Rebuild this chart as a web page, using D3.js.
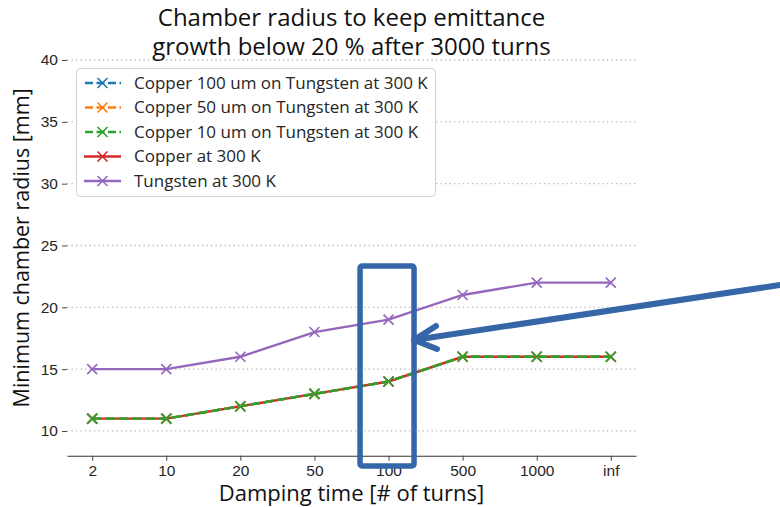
<!DOCTYPE html>
<html>
<head>
<meta charset="utf-8">
<script src="https://cdn.jsdelivr.net/npm/d3@7"></script>
<style>
  html, body { margin: 0; padding: 0; background: #fff; }
  svg { display: block; font-family: "Open Sans", Lato, sans-serif; }
</style>
</head>
<body>
<svg id="chart" width="780" height="507"></svg>
<script>
// Damping time categories (x axis)
const dampingTimes = ["2", "10", "20", "50", "100", "500", "1000", "inf"];

// Minimum chamber radius [mm] per configuration
const copper100OnTungsten = [11, 11, 12, 13, 14, 16, 16, 16];
const copper50OnTungsten  = [11, 11, 12, 13, 14, 16, 16, 16];
const copper10OnTungsten  = [11, 11, 12, 13, 14, 16, 16, 16];
const copperOnly          = [11, 11, 12, 13, 14, 16, 16, 16];
const tungstenOnly        = [15, 15, 16, 18, 19, 21, 22, 22];

const seriesNames = [
  "Copper 100 um on Tungsten at 300 K",
  "Copper 50 um on Tungsten at 300 K",
  "Copper 10 um on Tungsten at 300 K",
  "Copper at 300 K",
  "Tungsten at 300 K"
];

const yTicks = [10, 15, 20, 25, 30, 35, 40];

const series = [
  { name: seriesNames[0], values: copper100OnTungsten, color: "#1f77b4", dashed: true },
  { name: seriesNames[1], values: copper50OnTungsten,  color: "#ff7f0e", dashed: true },
  { name: seriesNames[2], values: copper10OnTungsten,  color: "#2ca02c", dashed: true },
  { name: seriesNames[3], values: copperOnly,          color: "#d62728", dashed: false },
  { name: seriesNames[4], values: tungstenOnly,        color: "#9467bd", dashed: false }
];
// solid copper line sits below the dashed coated-copper lines
const drawOrder = [3, 0, 1, 2, 4];

const svg = d3.select("#chart");
const plotLeft = 67, plotRight = 636, plotTop = 60, plotBottom = 455.7;

const x = d3.scalePoint().domain(dampingTimes).range([plotLeft, plotRight]).padding(0.34);
const y = d3.scaleLinear().domain([8, 40]).range([plotBottom, plotTop]);

const textColor = "#262626";
const dash = "9.5,3.8";

// horizontal dotted grid
svg.append("g").selectAll("line").data(yTicks).join("line")
  .attr("x1", plotLeft).attr("x2", plotRight)
  .attr("y1", d => y(d)).attr("y2", d => y(d))
  .attr("stroke", "#b8b8b8").attr("stroke-width", 1.3)
  .attr("stroke-dasharray", "1.3,3.2");

// y axis (no spine)
const yAxis = svg.append("g").attr("transform", `translate(${plotLeft},0)`)
  .call(d3.axisLeft(y).tickValues(yTicks).tickSize(5).tickPadding(4));
yAxis.select(".domain").remove();
yAxis.selectAll("line").attr("stroke", "#444").attr("stroke-width", 1);
yAxis.selectAll("text").attr("font-size", 15.5).attr("fill", textColor)
  .attr("font-family", "inherit");

// x axis
const xAxis = svg.append("g").attr("transform", `translate(0,${plotBottom})`)
  .call(d3.axisBottom(x).tickSize(5).tickSizeOuter(0).tickPadding(4));
xAxis.select(".domain").attr("stroke", "#333").attr("stroke-width", 1.1);
xAxis.selectAll("line").attr("stroke", "#444");
xAxis.selectAll("text").attr("font-size", 15.5).attr("fill", textColor)
  .attr("font-family", "inherit");

// series lines and x markers
const line = d3.line().x((d, i) => x(dampingTimes[i])).y(d => y(d));
const xMarker = (g, cx, cy, color) => {
  const r = 5;
  g.append("path")
    .attr("d", `M${cx - r},${cy - r}L${cx + r},${cy + r}M${cx - r},${cy + r}L${cx + r},${cy - r}`)
    .attr("stroke", color).attr("stroke-width", 1.6).attr("fill", "none");
};

const plot = svg.append("g");
drawOrder.forEach(k => {
  const s = series[k];
  plot.append("path").datum(s.values)
    .attr("d", line).attr("fill", "none")
    .attr("stroke", s.color).attr("stroke-width", 2.4)
    .attr("stroke-dasharray", s.dashed ? dash : null);
});
drawOrder.forEach(k => {
  const s = series[k];
  const g = plot.append("g");
  s.values.forEach((v, i) => xMarker(g, x(dampingTimes[i]), y(v), s.color));
});

// legend
const lg = svg.append("g");
lg.append("rect").attr("x", 76.5).attr("y", 68.5).attr("width", 359).attr("height", 128)
  .attr("rx", 4).attr("fill", "#fff").attr("fill-opacity", 0.85)
  .attr("stroke", "#d0d0d0").attr("stroke-width", 1);
series.forEach((s, i) => {
  const ly = 83 + i * 24.5;
  lg.append("line").attr("x1", 84).attr("x2", 121).attr("y1", ly).attr("y2", ly)
    .attr("stroke", s.color).attr("stroke-width", 2.4)
    .attr("stroke-dasharray", s.dashed ? "8,3.5" : null)
    .attr("stroke-dashoffset", s.dashed ? -1 : null);
  xMarker(lg, 102.5, ly, s.color);
  lg.append("text").attr("x", 134).attr("y", ly).attr("dy", "0.35em")
    .attr("font-size", 17).attr("fill", textColor).text(s.name);
});

// titles
const title = svg.append("text").attr("text-anchor", "middle")
  .attr("font-size", 24).attr("fill", "#111");
title.append("tspan").attr("x", (plotLeft + plotRight) / 2).attr("y", 26).text("Chamber radius to keep emittance");
title.append("tspan").attr("x", (plotLeft + plotRight) / 2).attr("y", 55).text("growth below 20 % after 3000 turns");

svg.append("text").attr("text-anchor", "middle")
  .attr("transform", `translate(29,${(plotTop + plotBottom) / 2 - 10}) rotate(-90)`)
  .attr("font-size", 21.5).attr("fill", "#111").text("Minimum chamber radius [mm]");

svg.append("text").attr("text-anchor", "middle")
  .attr("x", (plotLeft + plotRight) / 2).attr("y", 501)
  .attr("font-size", 22).attr("fill", "#111").text("Damping time [# of turns]");

// highlight box around the 100-turn column, with pointer arrow
const hi = "#3566a8";
const col = x("100");
svg.append("rect").attr("x", col - 28.5).attr("y", 266).attr("width", 54).attr("height", 200)
  .attr("rx", 2).attr("fill", "none").attr("stroke", hi).attr("stroke-width", 5.5);
svg.append("path")
  .attr("d", "M780,285L414,340M436,326L414,340L437,349")
  .attr("fill", "none").attr("stroke", hi).attr("stroke-width", 6)
  .attr("stroke-linecap", "round").attr("stroke-linejoin", "round");
</script>
</body>
</html>
